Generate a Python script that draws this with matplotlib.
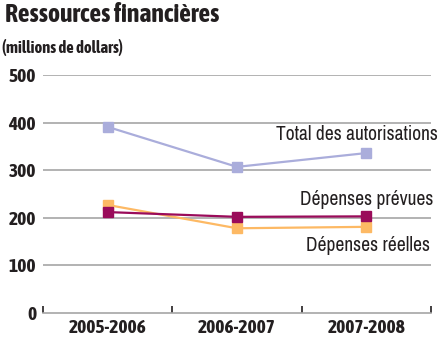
import matplotlib.pyplot as plt

plt.rcParams['font.family'] = ['Archivo Narrow', 'DejaVu Sans']
gras = ['Asap Condensed', 'DejaVu Sans']

annees = ['2005-2006', '2006-2007', '2007-2008']
total_autorisations = [391, 307, 336]
depenses_prevues = [212, 202, 203]
depenses_reelles = [227, 178, 181]

x = list(range(len(annees)))

fig = plt.figure(figsize=(4.4, 3.42), dpi=100)
ax = fig.add_axes([43 / 440, 1 - 313 / 342, 388 / 440, 238 / 342])

# grille horizontale
for v in [100, 200, 300, 400, 500]:
    ax.axhline(v, color='#a6a6a6', lw=1.2, zorder=0)

ax.plot(x, total_autorisations, color='#aaaddb', lw=1.6, marker='s', ms=7.5, zorder=3)
ax.plot(x, depenses_reelles, color='#fdb964', lw=1.6, marker='s', ms=7.5, zorder=3)
ax.plot(x, depenses_prevues, color='#9a0b5a', lw=1.6, marker='s', ms=7.5, zorder=4)

ax.set_xlim(-0.5, 2.5)
ax.set_ylim(0, 500)
for s in ['top', 'right', 'left']:
    ax.spines[s].set_visible(False)
ax.spines['bottom'].set_color('#a6a6a6')
ax.spines['bottom'].set_linewidth(1.2)

ax.set_yticks([0, 100, 200, 300, 400, 500])
ax.tick_params(axis='y', length=0, pad=5, labelsize=14)
for lbl in ax.get_yticklabels():
    lbl.set_family(gras)
    lbl.set_fontweight('bold')
    lbl.set_color('#231f20')

ax.set_xticks(x)
ax.set_xticklabels(annees, fontsize=14, fontweight='bold', color='#231f20', family=gras)
ax.tick_params(axis='x', which='major', length=0, pad=4)
ax.set_xticks([-0.5, 0.5, 1.5, 2.5], minor=True)
ax.tick_params(axis='x', which='minor', direction='in', length=5, width=1.2, color='#231f20')

# étiquettes des séries
ax.text(2.55, 375, 'Total des autorisations', ha='right', va='center', fontsize=14, color='#231f20', clip_on=False)
ax.text(2.52, 238, 'Dépenses prévues', ha='right', va='center', fontsize=14, color='#231f20', clip_on=False)
ax.text(2.49, 141, 'Dépenses réelles', ha='right', va='center', fontsize=14, color='#231f20', clip_on=False)

fig.text(5 / 440, 1 - 14 / 342, 'Ressources financières', fontsize=18.5, fontweight='bold',
         color='#231f20', va='center', family=gras)
fig.text(2 / 440, 1 - 48 / 342, '(millions de dollars)', fontsize=12, fontweight='bold',
         color='#231f20', va='center', family=gras)

fig.savefig('out.png', dpi=100)
